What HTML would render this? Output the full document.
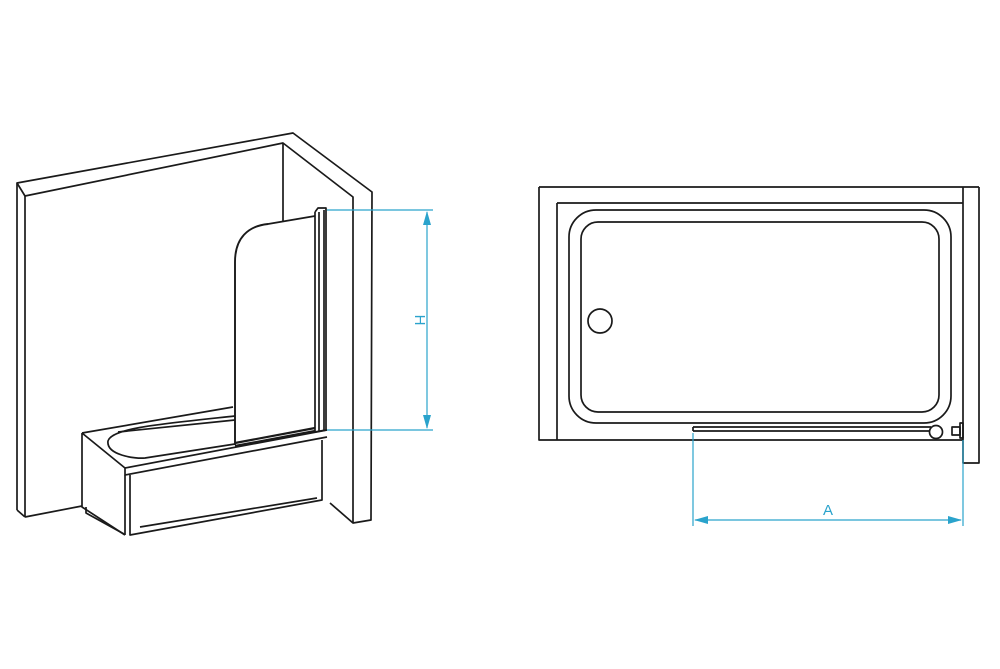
<!DOCTYPE html>
<html><head><style>html,body{margin:0;padding:0;background:#fff}svg{display:block}</style></head>
<body>
<svg width="1000" height="669" viewBox="0 0 1000 669" xmlns="http://www.w3.org/2000/svg">
<g fill="none" stroke="#1a1a1a" stroke-width="1.7" stroke-linejoin="round">
<!-- walls -->
<path d="M17,510 L17,183 L293,133 L372,192 L371,520 L353,523 L330,503"/>
<path d="M25,517 L25,196 L283,143 L353,197 L353,523"/>
<path d="M17,183 L25,196 M17,510 L25,517 M25,517 L82,506"/>
<path d="M283,143 L283,222"/>
<!-- bath -->
<path d="M82,433 L233,407 M82,433 L82,507 L125,535 M82,433 L125,468 L327,430 M125,468 L125,475 L327,437"/>
<path d="M125,475 L125,535 M130,475 L130,535 L322,500 L322,440"/>
<path d="M86,507 L86,513 L124,534 M140,527 L317,498"/>
<path d="M235,416 C160,424 112,428 108,441 C106,455 135,459 145,458 L235,444"/>
<path d="M235,420 L118,432"/>
<!-- glass -->
<path d="M235,445 L235,262 C235,238 248,226 268,224 L315,216" stroke-width="1.9"/>
<path d="M235,443 L315,428 M235,446 L315,431" stroke-width="2.2"/>
<path d="M315,212 L315,432 M319,212 L319,432 M324,210 L324,430 M315,212 L318,208 L326,208 L326,430 L315,432"/>
<!-- plan -->
<path d="M539,187 L979,187 M539,187 L539,440 L963,440 M963,187 L963,463 L979,463 L979,187"/>
<path d="M557,203 L963,203 M557,203 L557,440"/>
<rect x="569" y="210" width="382" height="213" rx="27"/>
<rect x="581" y="222" width="358" height="190" rx="17"/>
<circle cx="600" cy="321" r="12"/>
<path d="M693,427 L931,427 M693,431 L931,431 M693,427 L693,431"/>
<circle cx="936" cy="432" r="6.5" fill="#fff"/>
<rect x="952" y="427" width="8" height="8"/>
<rect x="960" y="423" width="3" height="15"/>
</g>
<g stroke="#2aa3cc" stroke-width="1.2" fill="#2aa3cc">
<path d="M327,210 L433,210 M327,430 L433,430 M427,212 L427,428" fill="none"/>
<path d="M427,211 L423,225 L431,225 Z M427,429 L423,415 L431,415 Z" stroke="none"/>
<path d="M693,433 L693,526 M963,440 L963,526 M695,520 L961,520" fill="none"/>
<path d="M694,520 L708,516 L708,524 Z M962,520 L948,516 L948,524 Z" stroke="none"/>
</g>
<text x="0" y="0" transform="translate(415,320) rotate(90)" font-family="Liberation Sans, sans-serif" font-size="15" fill="#2aa3cc" text-anchor="middle">H</text>
<text x="828" y="515" font-family="Liberation Sans, sans-serif" font-size="15" fill="#2aa3cc" text-anchor="middle">A</text>
</svg>
</body></html>
